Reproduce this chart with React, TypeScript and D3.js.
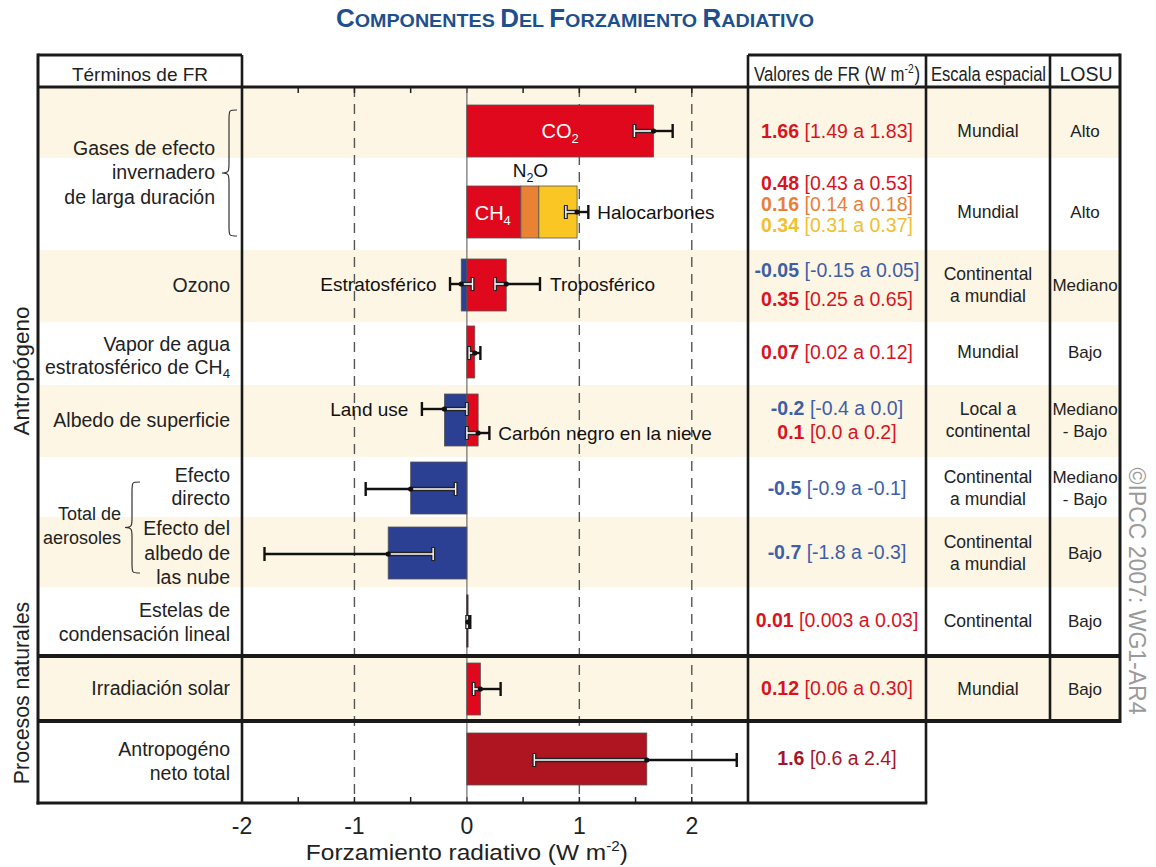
import React from "react";
import * as d3 from "d3";

const FONT = "'Liberation Sans', Arial, Helvetica, sans-serif";

// ---------- data ----------
const barTerms = ["CO2", "CH4", "N2O", "Halocarbonos", "O3 estratosférico", "O3 troposférico", "Vapor de agua estratosférico", "Uso del suelo", "Carbón negro en la nieve", "Aerosol efecto directo", "Aerosol albedo de nubes", "Estelas de condensación", "Irradiación solar", "Antropogénico neto total"];
const barValues = [1.66, 0.48, 0.16, 0.34, -0.05, 0.35, 0.07, -0.2, 0.1, -0.5, -0.7, 0.01, 0.12, 1.6];
const barRow = [0, 1, 1, 1, 2, 2, 3, 4, 4, 5, 6, 7, 8, 9];

const errTerms = ["CO2", "GEI larga duración", "O3 estrat", "O3 trop", "Vapor", "Uso del suelo", "Carbón negro", "Directo", "Nubes", "Estelas", "Solar", "Neto"];
const errLow = [1.49, 0.88, -0.15, 0.25, 0.02, -0.4, 0.0, -0.9, -1.8, 0.003, 0.06, 0.6];
const errHigh = [1.83, 1.08, 0.05, 0.65, 0.12, 0.0, 0.2, -0.1, -0.3, 0.03, 0.3, 2.4];
const errMean = [1.66, 0.98, -0.05, 0.35, 0.07, -0.2, 0.1, -0.5, -0.7, 0.01, 0.12, 1.6];
const errRow = [0, 1, 2, 2, 3, 4, 4, 5, 6, 7, 8, 9];

const valueBold = ["1.66", "0.48", "0.16", "0.34", "-0.05", "0.35", "0.07", "-0.2", "0.1", "-0.5", "-0.7", "0.01", "0.12", "1.6"];
const valueRange = ["[1.49 a 1.83]", "[0.43 a 0.53]", "[0.14 a 0.18]", "[0.31 a 0.37]", "[-0.15 a 0.05]", "[0.25 a 0.65]", "[0.02 a 0.12]", "[-0.4 a 0.0]", "[0.0 a 0.2]", "[-0.9 a -0.1]", "[-1.8 a -0.3]", "[0.003 a 0.03]", "[0.06 a 0.30]", "[0.6 a 2.4]"];

const termLabelLines = [
  ["Gases de efecto", "invernadero", "de larga duración"],
  ["Ozono"],
  ["Vapor de agua", "estratosférico de CH_4"],
  ["Albedo de superficie"],
  ["Efecto", "directo"],
  ["Efecto del", "albedo de", "las nube"],
  ["Total de", "aerosoles"],
  ["Estelas de", "condensación lineal"],
  ["Irradiación solar"],
  ["Antropogéno", "neto total"],
];
const scaleLabels = [["Mundial"], ["Mundial"], ["Continental", "a mundial"], ["Mundial"], ["Local a", "continental"], ["Continental", "a mundial"], ["Continental", "a mundial"], ["Continental"], ["Mundial"]];
const losuLabels = [["Alto"], ["Alto"], ["Mediano"], ["Bajo"], ["Mediano", "- Bajo"], ["Mediano", "- Bajo"], ["Bajo"], ["Bajo"], ["Bajo"]];
const xTickLabels = [-2, -1, 0, 1, 2];
const dashedAt = [-1, 1, 2];

// ---------- styles / layout ----------
const RED = "#e0081c";
const BLUE = "#2b3f93";
const ORANGE = "#e98232";
const YELLOW = "#f9c623";
const DARKRED = "#ae1520";
const BAND = "#fdf6e4";
const barFill: Record<string, string> = {
  CO2: RED, CH4: RED, N2O: ORANGE, Halocarbonos: YELLOW,
  "O3 estratosférico": BLUE, "O3 troposférico": RED, "Vapor de agua estratosférico": RED,
  "Uso del suelo": BLUE, "Carbón negro en la nieve": RED, "Aerosol efecto directo": BLUE,
  "Aerosol albedo de nubes": BLUE, "Estelas de condensación": RED, "Irradiación solar": RED,
  "Antropogénico neto total": DARKRED,
};
const TXT_RED = "#d9141f", TXT_BLUE = "#3e5ea8", TXT_OR = "#e8803a", TXT_YE = "#f2c02e", TXT_DR = "#a5152a";
const valueColor = [TXT_RED, TXT_RED, TXT_OR, TXT_YE, TXT_BLUE, TXT_RED, TXT_RED, TXT_BLUE, TXT_RED, TXT_BLUE, TXT_BLUE, TXT_RED, TXT_RED, TXT_DR];
const valueCY = [131, 183, 204, 225, 270, 299, 352, 408, 432, 488, 552, 620, 688, 758];

const rowEdges = [87, 158, 250, 322, 385, 457, 517, 587, 656, 721, 803];
const rowCenter = [131, 212, 285, 352, 420, 488, 553, 621, 689, 759];
const BAR_H = 52;
const errOffset = [0, 0, -1, -1, 1, -11, 13, 1, 1, 1, 0, 1];
const labelPos = [
  { x: 215, cy: [148, 172, 197], fs: 19.5 },
  { x: 230, cy: [285], fs: 19.5 },
  { x: 230, cy: [344, 367], fs: 19.5 },
  { x: 230, cy: [420], fs: 19.5 },
  { x: 230, cy: [475, 498], fs: 19.5 },
  { x: 230, cy: [528, 553, 577], fs: 19.5 },
  { x: 121, cy: [513, 537], fs: 18 },
  { x: 230, cy: [610, 634], fs: 19.5 },
  { x: 230, cy: [688], fs: 19.5 },
  { x: 230, cy: [749, 773], fs: 19.5 },
];

function rich(s: string, fs: number) {
  const parts = s.split("_");
  if (parts.length === 1) return s;
  return (
    <>
      {parts[0]}
      <tspan fontSize={fs * 0.68} dy={fs * 0.2}>{parts[1]}</tspan>
    </>
  );
}

function bracePath(xr: number, xm: number, xl: number, y1: number, y2: number) {
  const m = (y1 + y2) / 2;
  const q = 10;
  return `M${xr},${y1} C${xm},${y1} ${xm},${y1} ${xm},${y1 + q} L${xm},${m - q} C${xm},${m - 2} ${xm},${m} ${xl},${m} C${xm},${m} ${xm},${m + 2} ${xm},${m + q} L${xm},${y2 - q} C${xm},${y2} ${xm},${y2} ${xr},${y2}`;
}

export default function App() {
  const x = d3.scaleLinear().domain([-2, 2.5]).range([242, 748]);
  const L = 38, R = 1120, TOP = 55, HB = 87, BOT = 803;

  // stacking per row
  const posAcc: Record<number, number> = {};
  const negAcc: Record<number, number> = {};
  const rowMin: Record<number, number> = {};
  const rowMax: Record<number, number> = {};
  const bars = barValues.map((v, i) => {
    const r = barRow[i];
    let a: number, b: number;
    if (v >= 0) { a = posAcc[r] || 0; b = a + v; posAcc[r] = b; }
    else { b = negAcc[r] || 0; a = b + v; negAcc[r] = a; }
    rowMin[r] = Math.min(rowMin[r] ?? 0, a);
    rowMax[r] = Math.max(rowMax[r] ?? 0, b);
    return { term: barTerms[i], a, b, r };
  });

  const ticks = d3.range(-1.5, 2.01, 0.5);

  const errEls: JSX.Element[] = [];
  errLow.forEach((lo, i) => {
    const hi = errHigh[i];
    const r = errRow[i];
    const y = rowCenter[r] + errOffset[i];
    const mn = rowMin[r], mx = rowMax[r];
    const inA = Math.max(lo, mn), inB = Math.min(hi, mx);
    const k = `e${i}`;
    if (lo < mn) errEls.push(<line key={k + "o1"} x1={x(lo)} x2={x(Math.min(hi, mn))} y1={y} y2={y} stroke="#111" strokeWidth={2.4} />);
    if (hi > mx) errEls.push(<line key={k + "o2"} x1={x(Math.max(lo, mx))} x2={x(hi)} y1={y} y2={y} stroke="#111" strokeWidth={2.4} />);
    [lo, hi].forEach((c, j) => {
      const inside = c >= mn && c <= mx;
      if (inside) {
        errEls.push(<line key={k + "c" + j + "a"} x1={x(c)} x2={x(c)} y1={y - 7} y2={y + 7} stroke="#222" strokeWidth={4} />);
      } else {
        errEls.push(<line key={k + "c" + j} x1={x(c)} x2={x(c)} y1={y - 7} y2={y + 7} stroke="#111" strokeWidth={2.4} />);
      }
    });
    if (inB > inA) {
      errEls.push(<line key={k + "i1"} x1={x(inA)} x2={x(inB)} y1={y} y2={y} stroke="#222" strokeWidth={4.4} />);
      errEls.push(<line key={k + "i2"} x1={x(inA)} x2={x(inB)} y1={y} y2={y} stroke="#fff" strokeWidth={1.6} />);
    }
    [lo, hi].forEach((c, j) => {
      const inside = c >= mn && c <= mx;
      if (inside) errEls.push(<line key={k + "c" + j + "b"} x1={x(c)} x2={x(c)} y1={y - 6} y2={y + 6} stroke="#fff" strokeWidth={1.4} />);
    });
    errEls.push(<circle key={k + "d"} cx={x(errMean[i])} cy={y} r={2.6} fill="#111" />);
  });

  const valX = (748 + 926) / 2, scX = (926 + 1050) / 2, loX = (1050 + R) / 2;

  return (
    <svg width={1156} height={867} style={{ position: "absolute", left: 0, top: 0, background: "#fff" }} fontFamily={FONT}>
      <rect x={0} y={0} width={1156} height={867} fill="#fff" />
      {/* title */}
      <text x={575} y={27} textAnchor="middle" fill="#1e508e" fontWeight="bold" fontSize={19} textLength={478} lengthAdjust="spacingAndGlyphs">
        <tspan fontSize={25}>C</tspan>OMPONENTES <tspan fontSize={25}>D</tspan>EL <tspan fontSize={25}>F</tspan>ORZAMIENTO <tspan fontSize={25}>R</tspan>ADIATIVO
      </text>

      {/* row bands */}
      {rowEdges.slice(0, -1).map((y0, i) =>
        i % 2 === 0 && i < 9 ? <rect key={"b" + i} x={L} y={y0} width={R - L} height={rowEdges[i + 1] - y0} fill={BAND} /> : null
      )}

      {/* dashed grid */}
      {dashedAt.map((v) => (
        <line key={"d" + v} x1={x(v)} x2={x(v)} y1={HB} y2={BOT} stroke="#555" strokeWidth={1.4} strokeDasharray="10,7" />
      ))}
      {/* ticks */}
      {ticks.map((v) => (
        <g key={"t" + v}>
          <line x1={x(v)} x2={x(v)} y1={HB} y2={HB + 6} stroke="#222" strokeWidth={1.5} />
          <line x1={x(v)} x2={x(v)} y1={BOT} y2={BOT - 6} stroke="#222" strokeWidth={1.5} />
        </g>
      ))}
      {/* zero line */}
      <line x1={x(0)} x2={x(0)} y1={HB} y2={BOT} stroke="#777" strokeWidth={1.3} />

      {/* bars */}
      {bars.map((b, i) => (
        <rect key={"bar" + i} x={x(b.a)} y={rowCenter[b.r] - BAR_H / 2} width={Math.max(x(b.b) - x(b.a), 1)} height={BAR_H}
          fill={barFill[b.term]} stroke={b.term.startsWith("Estelas") ? "#222" : "#555"} strokeWidth={0.8} />
      ))}
      {errEls}

      {/* in-chart labels */}
      <text x={x(0.83)} y={rowCenter[0] + 7} textAnchor="middle" fill="#fff" fontSize={20}>CO<tspan fontSize={13} dy={5}>2</tspan></text>
      <text x={x(0.23)} y={rowCenter[1] + 8} textAnchor="middle" fill="#fff" fontSize={20}>CH<tspan fontSize={13} dy={5}>4</tspan></text>
      <text x={x(0.565)} y={177} textAnchor="middle" fill="#111" fontSize={19}>N<tspan fontSize={12.5} dy={5}>2</tspan><tspan dy={-5}>O</tspan></text>
      <text x={x(1.16)} y={rowCenter[1] + 7} fill="#111" fontSize={19}>Halocarbones</text>
      <text x={x(-0.27)} y={291} textAnchor="end" fill="#111" fontSize={19}>Estratosférico</text>
      <text x={x(0.74)} y={291} fill="#111" fontSize={19}>Troposférico</text>
      <text x={x(-0.52)} y={416} textAnchor="end" fill="#111" fontSize={19}>Land use</text>
      <text x={x(0.28)} y={440} fill="#111" fontSize={19}>Carbón negro en la nieve</text>

      {/* left labels */}
      {termLabelLines.map((lines, gi) =>
        lines.map((ln, li) => (
          <text key={"l" + gi + "_" + li} x={labelPos[gi].x} y={labelPos[gi].cy[li] + 7} textAnchor="end" fill="#222" fontSize={labelPos[gi].fs}>
            {rich(ln, labelPos[gi].fs)}
          </text>
        ))
      )}
      <path d={bracePath(237, 229, 222, 110, 236)} fill="none" stroke="#333" strokeWidth={1.2} />
      <path d={bracePath(140, 132, 125, 482, 573)} fill="none" stroke="#333" strokeWidth={1.2} />

      {/* value column */}
      {valueBold.map((v, i) => (
        <text key={"v" + i} x={valX} y={valueCY[i] + 7} textAnchor="middle" fill={valueColor[i]} fontSize={19.5}>
          <tspan fontWeight="bold">{v}</tspan> {valueRange[i]}
        </text>
      ))}
      {scaleLabels.map((lines, r) =>
        lines.map((ln, li) => (
          <text key={"s" + r + li} x={scX} y={rowCenter[r] + (li - (lines.length - 1) / 2) * 21.5 + 6} textAnchor="middle" fill="#222" fontSize={17.5}>{ln}</text>
        ))
      )}
      {losuLabels.map((lines, r) =>
        lines.map((ln, li) => (
          <text key={"u" + r + li} x={loX} y={rowCenter[r] + (li - (lines.length - 1) / 2) * 21.5 + 6} textAnchor="middle" fill="#222" fontSize={17}>{ln}</text>
        ))
      )}

      {/* headers */}
      <text x={(L + 242) / 2} y={81} textAnchor="middle" fill="#222" fontSize={19}>Términos de FR</text>
      <g transform="translate(754,81) scale(0.86,1)">
        <text x={0} y={0} fill="#222" fontSize={19.5}>Valores de FR (W m<tspan fontSize={12} dy={-8}>-2</tspan><tspan dy={8} dx={1}>)</tspan></text>
      </g>
      <g transform="translate(931,81) scale(0.85,1)">
        <text x={0} y={0} fill="#222" fontSize={19.5}>Escala espacial</text>
      </g>
      <text x={loX + 1} y={81} textAnchor="middle" fill="#222" fontSize={19.5}>LOSU</text>

      {/* side labels */}
      <text transform="translate(29,371) rotate(-90)" textAnchor="middle" fill="#222" fontSize={22.5}>Antropógeno</text>
      <text transform="translate(29,693) rotate(-90)" textAnchor="middle" fill="#222" fontSize={21.3}>Procesos naturales</text>
      <text transform="translate(1129,591) rotate(90)" textAnchor="middle" fill="#9a9a9a" fontSize={23}>©IPCC 2007: WG1-AR4</text>

      {/* frame */}
      <g stroke="#1a1a1a" fill="none">
        <line x1={L} x2={242} y1={TOP} y2={TOP} strokeWidth={3} />
        <line x1={748} x2={R} y1={TOP} y2={TOP} strokeWidth={3} />
        <line x1={L} x2={R} y1={HB} y2={HB} strokeWidth={3} />
        <line x1={L} x2={L} y1={TOP - 1.5} y2={BOT + 1.5} strokeWidth={3} />
        <line x1={242} x2={242} y1={TOP} y2={BOT} strokeWidth={2.6} />
        <line x1={748} x2={748} y1={TOP} y2={BOT} strokeWidth={2.6} />
        <line x1={926} x2={926} y1={TOP} y2={BOT} strokeWidth={2.6} />
        <line x1={1050} x2={1050} y1={TOP} y2={721} strokeWidth={2.6} />
        <line x1={R} x2={R} y1={TOP - 1.5} y2={723} strokeWidth={3} />
        <line x1={L} x2={R} y1={656} y2={656} strokeWidth={4} />
        <line x1={L} x2={R} y1={721} y2={721} strokeWidth={4} />
        <line x1={L - 1.5} x2={927.3} y1={BOT} y2={BOT} strokeWidth={3} />
      </g>

      {/* axis */}
      {xTickLabels.map((v) => (
        <text key={"xl" + v} x={x(v)} y={834} textAnchor="middle" fill="#222" fontSize={23}>{String(v)}</text>
      ))}
      <text x={x(0)} y={860} textAnchor="middle" fill="#222" fontSize={22.5} textLength={322} lengthAdjust="spacingAndGlyphs">
        Forzamiento radiativo (W m<tspan fontSize={14} dy={-9}>-2</tspan><tspan dy={9}>)</tspan>
      </text>
    </svg>
  );
}
